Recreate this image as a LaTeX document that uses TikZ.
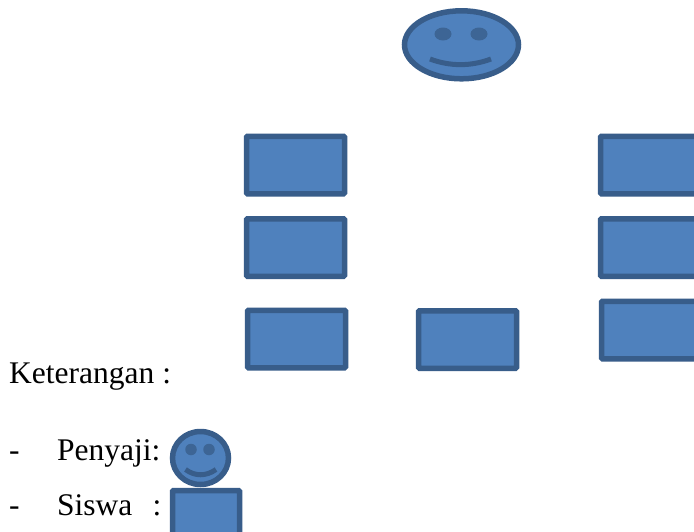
\documentclass[tikz,border=0pt]{standalone}
\usepackage{fontspec}
\setmainfont{Liberation Serif}
\usetikzlibrary{shapes.geometric}
\definecolor{bluefill}{HTML}{4F81BD}
\definecolor{blueline}{HTML}{385D8A}
\definecolor{eyefill}{HTML}{3D6595}
\tikzset{
  desk/.style={rectangle,draw=blueline,fill=bluefill,line width=5.5pt,rounded corners=1pt,inner sep=0pt,anchor=center},
  faceshape/.style={ellipse,draw=blueline,fill=bluefill,line width=5.5pt,inner sep=0pt},
  eye/.style={ellipse,fill=eyefill,draw=none,inner sep=0pt},
  smile/.style={draw=blueline,line width=5pt},
  label/.style={anchor=base west,inner sep=0pt,font=\fontsize{31.5pt}{36pt}\selectfont,text=black}
}
\begin{document}
\begin{tikzpicture}[x=1pt,y=-1pt]
\useasboundingbox (0,0) rectangle (694,531);
\clip (0,0) rectangle (694,531);
\fill[white] (0,0) rectangle (694,531);
% large face
\node[faceshape,minimum width=114pt,minimum height=68pt] (face) at (461.5,44.8) {};
\node[eye,minimum width=17pt,minimum height=13pt] (eyeL) at (443,34) {};
\node[eye,minimum width=17pt,minimum height=13pt] (eyeR) at (479,34) {};
\draw[smile] (430,59) .. controls (450,66.5) and (471,66.5) .. (491,59);
% desks
\node[desk,minimum width=98pt,minimum height=57.5pt] (d1) at (295.5,165) {};
\node[desk,minimum width=98pt,minimum height=57.5pt] (d2) at (295.5,247.5) {};
\node[desk,minimum width=98pt,minimum height=57.5pt] (d3) at (296.5,339) {};
\node[desk,minimum width=98pt,minimum height=57.5pt] (d4) at (467.5,339.5) {};
\node[desk,minimum width=98pt,minimum height=57.5pt] (d5) at (649.5,165) {};
\node[desk,minimum width=98pt,minimum height=57.5pt] (d6) at (649.5,247.5) {};
\node[desk,minimum width=98pt,minimum height=57.5pt] (d7) at (650.5,330) {};
% legend
\node[label] (ket) at (9,383) {Keterangan :};
\node[label] (dash1) at (9,460) {-};
\node[label] (pen) at (57,460) {Penyaji:};
\node[label] (dash2) at (9,515) {-};
\node[label] (sis) at (57,515) {Siswa};
\node[label] (col) at (152.5,515) {:};
\node[faceshape,minimum width=56pt,minimum height=53pt] (small) at (200.5,458) {};
\node[eye,minimum width=11.5pt,minimum height=11.5pt] (sL) at (191,449.5) {};
\node[eye,minimum width=11.5pt,minimum height=11.5pt] (sR) at (209,449.5) {};
\draw[smile] (185.5,469.5) .. controls (195,476.5) and (206,476.5) .. (216,469.5);
\node[desk,minimum width=67pt,minimum height=67pt] (legenddesk) at (206,524) {};
\end{tikzpicture}
\end{document}
